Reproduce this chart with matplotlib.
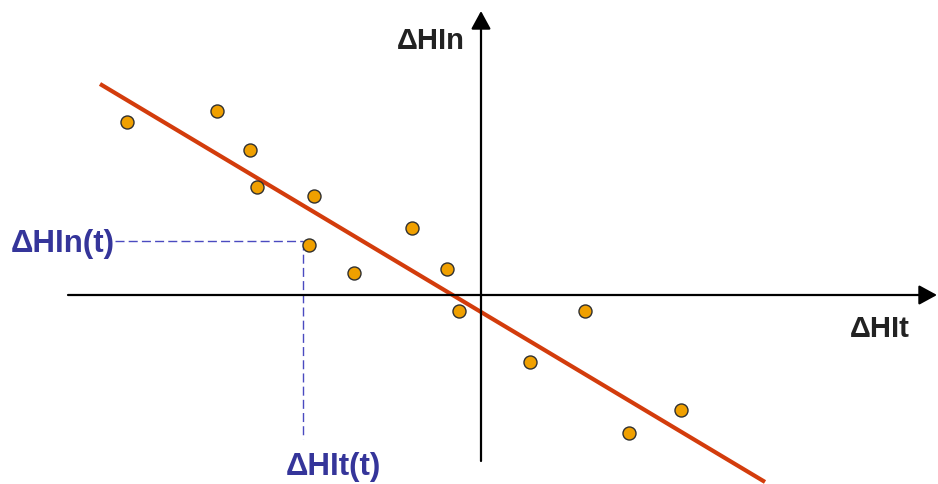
import numpy as np
import matplotlib
matplotlib.use("Agg")
from matplotlib import pyplot as plt

# scatter values (dHIt, dHIn), origin at the axes crossing
dhit = [-354, -264, -231, -224, -167, -172, -127, -69, -34, -22, 49, 104, 148, 200]
dhin = [173, 184, 145, 108, 99, 50, 22, 67, 26, -16, -67, -16, -138, -115]

# fitted line
slope = -0.5985
intercept = -17.0
fit_x = [-381, 284]

# the marked point t
t_x = -178
t_y = 54

plt.rcParams['font.family'] = ['Liberation Sans', 'DejaVu Sans']

fig = plt.figure(figsize=(9.38, 4.85), dpi=100)
ax = fig.add_axes([0, 0, 1, 1])
ax.set_xlim(-481, 457)
ax.set_ylim(-189, 296)
ax.axis('off')

# axes with arrows
arrow = dict(arrowstyle='-|>,head_length=0.55,head_width=0.3', lw=1.6,
             color='black', shrinkA=0, shrinkB=0, mutation_scale=20)
ax.annotate('', xy=(456, 0), xytext=(-413, 0), arrowprops=arrow)
ax.annotate('', xy=(0, 284), xytext=(0, -166), arrowprops=arrow)

# dashed guides to point t
guide = '#4a4ac0'
ax.plot([-366, t_x], [t_y, t_y], ls=(0, (6.5, 3)), lw=1.0, color=guide)
ax.plot([t_x, t_x], [t_y, -144], ls=(0, (6.5, 3)), lw=1.0, color=guide)

# fitted line
fx = np.array(fit_x)
ax.plot(fx, slope * fx + intercept, color='#d33c0c', lw=3.0, solid_capstyle='butt', zorder=2)

# scatter points
ax.scatter(dhit, dhin, s=88, color='#f0a000', edgecolors='#303030', linewidths=1.0, zorder=3)

# labels
ax.text(-50, 255, 'ΔHIn', fontsize=21, fontweight='bold', ha='center', va='center', color='#222222')
ax.text(399, -33, 'ΔHIt', fontsize=21, fontweight='bold', ha='center', va='center', color='#222222')
ax.text(-418, 52, 'ΔHIn(t)', fontsize=22.5, fontweight='bold', ha='center', va='center',
        color='#35359a')
ax.text(t_x + 30, -171, 'ΔHIt(t)', fontsize=22.5, fontweight='bold', ha='center', va='center',
        color='#35359a')

fig.savefig('out.png', dpi=100)
